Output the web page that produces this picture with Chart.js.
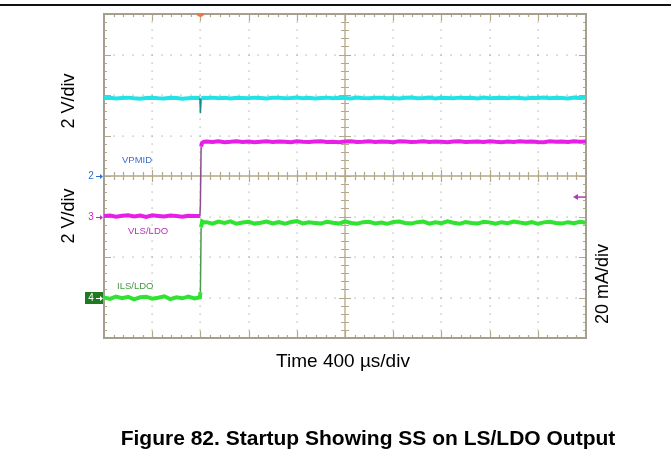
<!DOCTYPE html>
<html><head><meta charset="utf-8">
<script src="https://cdn.jsdelivr.net/npm/chart.js@4/dist/chart.umd.min.js"></script>
<style>html,body{margin:0;padding:0;background:#fff;}#wrap{position:relative;width:671px;height:466px;}</style>
</head><body><div id="wrap"><canvas id="c"></canvas></div>
<script>
// ---- data (time in µs, VPMID/VLS in V, ILS in mA) ----
const sampleTimes = [-800,-750,-700,-650,-600,-550,-500,-450,-400,-350,-300,-250,-200,-150,-100,-50,
  -4,0,6,14,30,
  50,100,150,200,250,300,350,400,450,500,550,600,650,700,750,800,850,900,950,1000,
  1050,1100,1150,1200,1250,1300,1350,1400,1450,1500,1550,1600,1650,1700,1750,1800,
  1850,1900,1950,2000,2050,2100,2150,2200,2250,2300,2350,2400,2450,2500,2550,2600,
  2650,2700,2750,2800,2850,2900,2950,3000,3050,3100,3150,3200];
const vpmidVolts = [3.84,3.86,3.83,3.85,3.87,3.84,3.82,3.85,3.86,3.84,3.83,3.86,3.85,3.82,3.84,3.86,
  3.85,3.10,3.82,3.84,3.86,
  3.85,3.87,3.84,3.86,3.83,3.86,3.85,3.84,3.87,3.85,
  3.83,3.86,3.87,3.84,3.85,3.88,3.84,3.86,3.83,3.85,
  3.87,3.84,3.86,3.85,3.83,3.87,3.85,3.84,3.86,3.87,
  3.84,3.85,3.83,3.86,3.88,3.84,3.85,3.87,3.83,3.86,
  3.85,3.84,3.87,3.85,3.86,3.83,3.87,3.84,3.85,3.86,
  3.84,3.87,3.85,3.83,3.86,3.85,3.88,3.84,3.86,3.85,
  3.83,3.87,3.85,3.86];
const vlsLdoVolts = [0.02,0.05,-0.01,0.04,0.06,0.00,0.05,-0.02,0.06,0.03,0.00,0.05,0.02,-0.01,0.04,0.03,
  0.03,0.60,3.45,3.64,3.69,
  3.70,3.68,3.71,3.67,3.69,3.72,3.68,3.70,3.67,3.69,
  3.71,3.68,3.70,3.69,3.67,3.72,3.69,3.68,3.70,3.71,
  3.68,3.69,3.67,3.70,3.72,3.68,3.69,3.71,3.68,3.70,
  3.69,3.67,3.71,3.70,3.68,3.69,3.72,3.68,3.70,3.69,
  3.67,3.70,3.71,3.68,3.69,3.70,3.68,3.72,3.69,3.67,
  3.70,3.68,3.71,3.69,3.70,3.68,3.67,3.71,3.69,3.70,
  3.68,3.72,3.69,3.70];
const ilsLdoMilliamps = [0.4,-0.3,0.9,0.1,0.7,-0.5,0.5,0.8,-0.2,0.3,1.0,-0.4,0.5,0.0,0.8,-0.1,
  0.5,3.0,35.0,38.0,37.5,
  37.6,36.9,37.9,37.2,38.0,36.8,37.4,37.8,36.9,37.3,
  37.9,37.0,37.6,36.8,37.7,38.1,37.0,37.5,37.2,36.9,
  37.8,37.3,36.9,38.0,37.2,36.8,37.6,37.8,37.0,37.4,
  36.8,37.7,37.9,37.2,36.9,37.6,37.9,36.9,37.5,37.1,
  38.0,37.3,36.8,37.7,37.2,36.9,37.8,37.5,36.8,37.6,
  37.1,37.9,37.4,37.0,37.7,36.8,37.5,37.8,37.2,36.9,
  37.6,37.1,37.8,37.3];
const timeTicks = [-800,-400,0,400,800,1200,1600,2000,2400,2800,3200];   // 400 µs/div
const voltTicks = [-8,-6,-4,-2,0,2,4,6,8];                               // 2 V/div (ch2)
const traceLabels = ['VPMID','VLS/LDO','ILS/LDO'];
const channelNumbers = ['2','3','4'];
const axisTitles = {left:'2 V/div', right:'20 mA/div', bottom:'Time 400 \u00b5s/div'};
const figureTitle = 'Figure 82. Startup Showing SS on LS/LDO Output';

const COL = {cyan:'#22e2e6', magenta:'#e61ee6', green:'#30e330',
  cyanDark:'#168a8c', magentaDark:'#8a4f8a', greenDark:'#4c9a4c',
  frame:'#a59f8f', tick:'#b3a887', dot:'#a9a9a9'};

function pts(vals){ return sampleTimes.map((t,i)=>({x:t,y:vals[i]})); }
function steepSeg(normal, dark){
  return {
    borderColor: c => Math.abs(c.p1.y - c.p0.y) > 8 ? dark : normal,
    borderWidth: c => Math.abs(c.p1.y - c.p0.y) > 8 ? 1.5 : 4
  };
}

const scopePlugin = {
  id:'scope',
  beforeDatasetsDraw(chart){
    const ctx = chart.ctx, xs = chart.scales.x, ys = chart.scales.yV2, a = chart.chartArea;
    ctx.save();
    ctx.fillStyle = '#111';
    ctx.fillRect(0, 4, chart.width, 2);
    const xMin = timeTicks[0], xMax = timeTicks[timeTicks.length-1];
    const yMin = voltTicks[0], yMax = voltTicks[voltTicks.length-1];
    const xStep = timeTicks[1]-timeTicks[0], yStep = voltTicks[1]-voltTicks[0];
    const xC = timeTicks[(timeTicks.length-1)/2], yC = voltTicks[(voltTicks.length-1)/2];
    ctx.fillStyle = COL.dot;
    for (const t of timeTicks){
      if (t===xMin||t===xMax||t===xC) continue;
      const px = Math.round(xs.getPixelForValue(t));
      for (let k=1;k<(yMax-yMin)/yStep*5;k++){
        const py = Math.round(ys.getPixelForValue(yMin + k*yStep/5));
        ctx.fillRect(px-0.5, py-0.5, 1.2, 1.2);
      }
    }
    for (const v of voltTicks){
      if (v===yMin||v===yMax||v===yC) continue;
      const py = Math.round(ys.getPixelForValue(v));
      for (let k=1;k<(xMax-xMin)/xStep*5;k++){
        const px = Math.round(xs.getPixelForValue(xMin + k*xStep/5));
        ctx.fillRect(px-0.5, py-0.5, 1.2, 1.2);
      }
    }
    const cx = xs.getPixelForValue(xC), cy = ys.getPixelForValue(yC);
    ctx.strokeStyle = COL.tick; ctx.lineWidth = 1.3;
    ctx.beginPath(); ctx.moveTo(a.left, cy); ctx.lineTo(a.right, cy);
    ctx.moveTo(cx, a.top); ctx.lineTo(cx, a.bottom); ctx.stroke();
    ctx.lineWidth = 1.2;
    ctx.beginPath();
    for (let k=1;k<(xMax-xMin)/xStep*5;k++){
      const major = k%5===0;
      const px = Math.round(xs.getPixelForValue(xMin + k*xStep/5))+0.5;
      const L = major?6:4;
      ctx.moveTo(px, cy-L); ctx.lineTo(px, cy+L);
      const E = major?7:3;
      ctx.moveTo(px, a.top); ctx.lineTo(px, a.top+E);
      ctx.moveTo(px, a.bottom); ctx.lineTo(px, a.bottom-E);
    }
    for (let k=1;k<(yMax-yMin)/yStep*5;k++){
      const major = k%5===0;
      const py = Math.round(ys.getPixelForValue(yMin + k*yStep/5))+0.5;
      const L = major?6:4;
      ctx.moveTo(cx-L, py); ctx.lineTo(cx+L, py);
      const E = major?7:3;
      ctx.moveTo(a.left, py); ctx.lineTo(a.left+E, py);
      ctx.moveTo(a.right, py); ctx.lineTo(a.right-E, py);
    }
    ctx.stroke();
    ctx.strokeStyle = COL.frame; ctx.lineWidth = 2;
    ctx.strokeRect(a.left, a.top, a.right-a.left, a.bottom-a.top);
    ctx.restore();
  },
  afterDatasetsDraw(chart){
    const ctx = chart.ctx, xs = chart.scales.x, a = chart.chartArea;
    ctx.save();
    const tx = xs.getPixelForValue(0);
    ctx.fillStyle = '#f07840';
    ctx.beginPath(); ctx.moveTo(tx-4, a.top-1); ctx.lineTo(tx+4, a.top-1); ctx.lineTo(tx+3, a.top+2); ctx.lineTo(tx, a.top+3); ctx.lineTo(tx-3, a.top+2); ctx.closePath(); ctx.fill();
    const ty = chart.scales.yV3.getPixelForValue(0.96);
    ctx.strokeStyle = '#b23ab2'; ctx.fillStyle = '#b23ab2'; ctx.lineWidth = 1.5;
    ctx.beginPath(); ctx.moveTo(a.right, ty); ctx.lineTo(a.right-9, ty); ctx.stroke();
    ctx.beginPath(); ctx.moveTo(a.right-13, ty); ctx.lineTo(a.right-8, ty-3); ctx.lineTo(a.right-8, ty+3); ctx.closePath(); ctx.fill();
    const gnd = [['yV2','#2f6ccf'],['yV3','#c02cc0'],['yI4','#1f7a1f']];
    ctx.font = '10px "Liberation Sans", Arial, sans-serif';
    ctx.textBaseline = 'middle';
    gnd.forEach(([id,col],i)=>{
      const gy = Math.round(chart.scales[id].getPixelForValue(0));
      if (i===2){
        ctx.fillStyle = col; ctx.fillRect(a.left-19, gy-6, 18, 12);
        ctx.fillStyle = '#fff'; ctx.strokeStyle = '#fff';
      } else { ctx.fillStyle = col; ctx.strokeStyle = col; }
      ctx.textAlign = 'center';
      ctx.fillText(channelNumbers[i], a.left-13, gy+0.5);
      ctx.lineWidth = 1;
      ctx.beginPath(); ctx.moveTo(a.left-8, gy+0.5); ctx.lineTo(a.left-2, gy+0.5); ctx.stroke();
      ctx.beginPath(); ctx.moveTo(a.left-1, gy+0.5); ctx.lineTo(a.left-4, gy-2); ctx.lineTo(a.left-4, gy+3); ctx.closePath(); ctx.fill();
    });
    ctx.font = '9.5px "Liberation Sans", Arial, sans-serif';
    ctx.textAlign = 'left';
    const lab = [[122,160,'#3a6fd0'],[128,231.5,'#b432b4'],[117,286,'#3f9a3f']];
    lab.forEach(([x,y,c],i)=>{ ctx.fillStyle = c; ctx.fillText(traceLabels[i], x, y); });
    ctx.fillStyle = '#000';
    ctx.font = '18px "Liberation Sans", Arial, sans-serif';
    ctx.textAlign = 'center';
    const rot = (txt,x,y)=>{ ctx.save(); ctx.translate(x,y); ctx.rotate(-Math.PI/2); ctx.fillText(txt,0,0); ctx.restore(); };
    rot(axisTitles.left, 69, 101);
    rot(axisTitles.left, 69, 216);
    rot(axisTitles.right, 603, 284);
    ctx.font = '19px "Liberation Sans", Arial, sans-serif';
    ctx.fillText(axisTitles.bottom, 343, 362);
    ctx.font = 'bold 21px "Liberation Sans", Arial, sans-serif';
    ctx.fillText(figureTitle, 368, 439);
    ctx.restore();
  }
};

new Chart(document.getElementById('c'), {
  type:'line',
  data:{ datasets:[
    {label:traceLabels[2], yAxisID:'yI4', data:pts(ilsLdoMilliamps), borderColor:COL.green, borderWidth:4, pointRadius:0, tension:0, segment:steepSeg(COL.green, COL.greenDark)},
    {label:traceLabels[1], yAxisID:'yV3', data:pts(vlsLdoVolts), borderColor:COL.magenta, borderWidth:4, pointRadius:0, tension:0, segment:steepSeg(COL.magenta, COL.magentaDark)},
    {label:traceLabels[0], yAxisID:'yV2', data:pts(vpmidVolts), borderColor:COL.cyan, borderWidth:4, pointRadius:0, tension:0, segment:steepSeg(COL.cyan, COL.cyanDark)}
  ]},
  options:{
    responsive:true, maintainAspectRatio:false, animation:false,
    layout:{padding:{left:104, right:85, top:14, bottom:128}},
    plugins:{legend:{display:false}, tooltip:{enabled:false}, title:{display:false}},
    scales:{
      x:{type:'linear', min:timeTicks[0], max:timeTicks[timeTicks.length-1], display:false},
      yV2:{type:'linear', min:voltTicks[0], max:voltTicks[voltTicks.length-1], display:false},
      yV3:{type:'linear', min:-6, max:10, display:false},
      yI4:{type:'linear', min:-19.6, max:140.4, display:false}
    }
  },
  plugins:[scopePlugin]
});
</script></body></html>
